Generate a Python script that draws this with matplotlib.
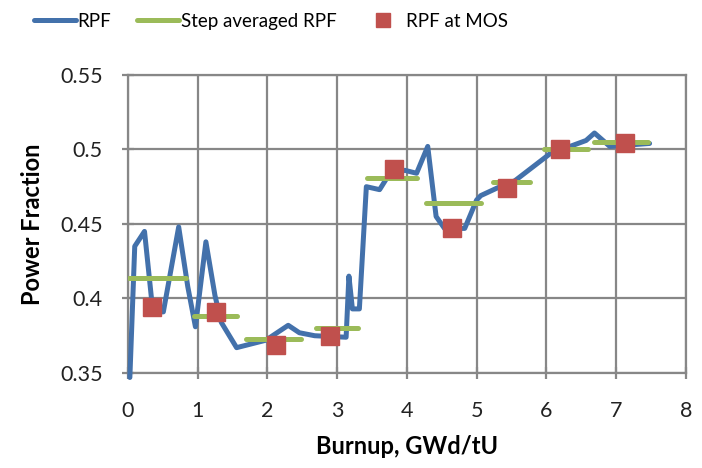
import matplotlib
matplotlib.use("Agg")
import matplotlib.pyplot as plt
from matplotlib.lines import Line2D

plt.rcParams['font.family'] = ['Lato', 'DejaVu Sans']

# RPF vs burnup
burnup = [0.03, 0.1, 0.24, 0.36, 0.51, 0.73, 0.86, 0.97, 1.12, 1.25, 1.34, 1.56, 1.98,
          2.3, 2.46, 2.68, 3.13, 3.17, 3.22, 3.32, 3.42, 3.61, 3.73, 3.97, 4.14, 4.3,
          4.42, 4.54, 4.83, 5.0, 5.06, 5.29, 5.55, 6.05, 6.57, 6.69, 6.91, 7.48]
rpf = [0.347, 0.435, 0.445, 0.391, 0.391, 0.448, 0.408, 0.381, 0.438, 0.402, 0.384, 0.367, 0.372,
       0.382, 0.377, 0.375, 0.374, 0.415, 0.393, 0.393, 0.475, 0.473, 0.482, 0.486, 0.484, 0.502,
       0.455, 0.447, 0.447, 0.466, 0.469, 0.474, 0.479, 0.497, 0.506, 0.511, 0.502, 0.504]

# step averaged RPF
step_start = [0.02, 0.95, 1.70, 2.70, 3.43, 4.28, 5.24, 5.97, 6.69]
step_end = [0.84, 1.56, 2.48, 3.30, 4.14, 5.06, 5.77, 6.60, 7.46]
step_rpf = [0.414, 0.388, 0.373, 0.380, 0.481, 0.464, 0.478, 0.500, 0.505]

# RPF at MOS
mos_burnup = [0.35, 1.27, 2.13, 2.90, 3.81, 4.65, 5.44, 6.20, 7.13]
mos_rpf = [0.394, 0.391, 0.369, 0.375, 0.487, 0.447, 0.474, 0.5005, 0.504]

blue = '#4371AB'
green = '#9BBB59'
red = '#C0504D'
gridc = '#878787'

fig = plt.figure(figsize=(7.02, 4.68), dpi=100)
ax = fig.add_axes([0.182, 0.203, 0.795, 0.637])

ax.plot(burnup, rpf, color=blue, lw=3.6, solid_joinstyle='round', solid_capstyle='round',
        zorder=3, clip_on=False)
for s, e, v in zip(step_start, step_end, step_rpf):
    ax.plot([s, e], [v, v], color=green, lw=3.6, solid_capstyle='round', zorder=4)
ax.plot(mos_burnup, mos_rpf, 's', color=red, ms=13.5, mec=red, zorder=5, lw=0)

ax.set_xlim(0, 8)
ax.set_ylim(0.35, 0.55)
ax.set_xticks(range(0, 9))
ax.set_yticks([0.35, 0.4, 0.45, 0.5, 0.55])
ax.set_yticklabels(['0.35', '0.4', '0.45', '0.5', '0.55'])
ax.grid(True, color=gridc, lw=1.6)
ax.set_axisbelow(True)
for sp in ax.spines.values():
    sp.set_color(gridc)
    sp.set_linewidth(1.6)
ax.tick_params(direction='inout', length=8, width=1.6, color=gridc, labelsize=15.5,
               labelcolor='#222222')
ax.tick_params(axis='x', pad=16)
ax.tick_params(axis='y', pad=14)
ax.set_xlabel('Burnup, GWd/tU', fontsize=17, fontweight='bold', va='center')
ax.set_ylabel('Power Fraction', fontsize=17, fontweight='bold', va='center')
ax.xaxis.set_label_coords(0.5, -0.245)
ax.yaxis.set_label_coords(-0.17, 0.5)

handles = [Line2D([], [], color=blue, lw=3.6, solid_capstyle='round'),
           Line2D([], [], color=green, lw=3.6, solid_capstyle='round'),
           Line2D([], [], marker='s', color=red, lw=0, ms=9.5)]
fig.legend(handles, ['RPF', 'Step averaged RPF', 'RPF at MOS'], loc='center',
           bbox_to_anchor=(0.386, 0.955), ncol=3, frameon=False, fontsize=13.5,
           handlelength=2.2, handletextpad=0.1, columnspacing=1.4)

fig.savefig('out.png', dpi=100)
